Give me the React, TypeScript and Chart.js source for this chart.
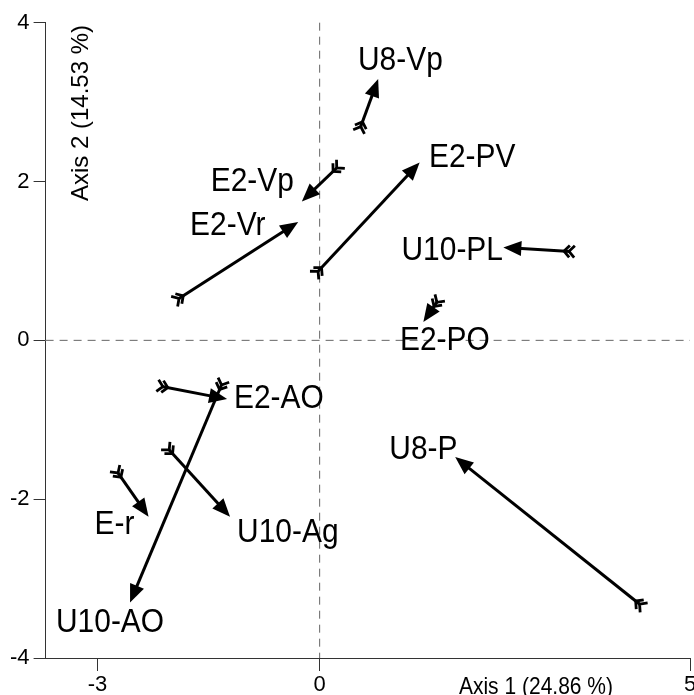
import { useEffect, useRef } from 'react';
import { Chart, registerables } from 'chart.js';

Chart.register(...registerables);

const labels = ['U8-Vp', 'E2-PV', 'E2-Vp', 'E2-Vr', 'U10-PL', 'E2-PO', 'U8-P', 'E2-AO', 'U10-AO', 'U10-Ag', 'E-r'];
const tailX = [0.55, -0.03, 0.24, -1.91, 3.38, 1.59, 4.33, -2.13, -1.32, -2.04, -2.73];
const tailY = [2.68, 0.86, 2.18, 0.52, 1.12, 0.49, -3.33, -0.58, -0.55, -1.37, -1.66];
const headX = [0.79, 1.35, -0.24, -0.29, 2.48, 1.40, 1.83, -1.25, -2.56, -1.21, -2.31];
const headY = [3.29, 2.24, 1.75, 1.49, 1.17, 0.23, -1.47, -0.74, -3.30, -2.22, -2.22];
const labelX = [1.09, 2.06, -0.91, -1.24, 1.79, 1.69, 1.40, -0.55, -2.83, -0.43, -2.77];
const labelY = [3.52, 2.30, 2.00, 1.44, 1.13, 0.0, -1.37, -0.74, -3.56, -2.42, -2.32];

const xTicks = [-3, 0, 5];
const yTicks = [-4, -2, 0, 2, 4];
const xTitle = 'Axis 1 (24.86 %)';
const yTitle = 'Axis 2 (14.53 %)';

const FONT = '"Liberation Sans", Arial, Helvetica, sans-serif';

export default function App() {
  const ref = useRef<HTMLCanvasElement>(null);

  useEffect(() => {
    document.body.style.margin = '0';
    const canvas = ref.current;
    if (!canvas) return;

    const overlay = {
      id: 'overlay',
      beforeDatasetsDraw(chart: any) {
        const { ctx, chartArea: a, scales } = chart;
        const x0 = scales.x.getPixelForValue(0);
        const y0 = scales.y.getPixelForValue(0);
        ctx.save();
        ctx.strokeStyle = '#666';
        ctx.lineWidth = 1;
        ctx.setLineDash([8, 6]);
        ctx.beginPath();
        ctx.moveTo(a.left, y0);
        ctx.lineTo(a.right, y0);
        ctx.moveTo(x0, a.top);
        ctx.lineTo(x0, a.bottom);
        ctx.stroke();
        ctx.restore();
      },
      afterDatasetsDraw(chart: any) {
        const { ctx, scales } = chart;
        const sx = scales.x;
        const sy = scales.y;
        ctx.save();
        ctx.fillStyle = '#000';
        ctx.strokeStyle = '#000';
        for (let i = 0; i < labels.length; i++) {
          const tx = sx.getPixelForValue(tailX[i]);
          const ty = sy.getPixelForValue(tailY[i]);
          const hx = sx.getPixelForValue(headX[i]);
          const hy = sy.getPixelForValue(headY[i]);
          const dx = hx - tx;
          const dy = hy - ty;
          const len = Math.hypot(dx, dy) || 1;
          const ux = dx / len;
          const uy = dy / len;
          const nx = -uy;
          const ny = ux;
          const L = 18;
          const W = 7.5;
          // shaft
          ctx.lineWidth = 3;
          ctx.lineCap = 'butt';
          ctx.beginPath();
          ctx.moveTo(tx, ty);
          ctx.lineTo(hx - ux * L * 0.8, hy - uy * L * 0.8);
          ctx.stroke();
          // head
          ctx.beginPath();
          ctx.moveTo(hx, hy);
          ctx.lineTo(hx - ux * L + nx * W, hy - uy * L + ny * W);
          ctx.lineTo(hx - ux * L - nx * W, hy - uy * L - ny * W);
          ctx.closePath();
          ctx.fill();
          // fletching (double chevron)
          ctx.lineWidth = 2.8;
          ctx.lineJoin = 'miter';
          for (let k = 0; k < 2; k++) {
            const vx = tx + ux * (1 + 5 * k);
            const vy = ty + uy * (1 + 5 * k);
            ctx.beginPath();
            ctx.moveTo(vx - ux * 5.5 + nx * 6, vy - uy * 5.5 + ny * 6);
            ctx.lineTo(vx, vy);
            ctx.lineTo(vx - ux * 5.5 - nx * 6, vy - uy * 5.5 - ny * 6);
            ctx.stroke();
          }
        }
        // labels
        ctx.font = `34px ${FONT}`;
        ctx.textAlign = 'center';
        ctx.textBaseline = 'middle';
        for (let i = 0; i < labels.length; i++) {
          const px = sx.getPixelForValue(labelX[i]);
          const py = sy.getPixelForValue(labelY[i]);
          ctx.save();
          ctx.translate(px, py);
          ctx.scale(0.88, 1);
          ctx.fillText(labels[i], 0, 0);
          ctx.restore();
        }
        // axis titles
        ctx.font = `24px ${FONT}`;
        ctx.textAlign = 'right';
        ctx.textBaseline = 'alphabetic';
        ctx.save();
        ctx.translate(613, 694);
        ctx.scale(0.875, 1);
        ctx.fillText(xTitle, 0, 0);
        ctx.restore();
        ctx.save();
        ctx.translate(88, 113);
        ctx.rotate(-Math.PI / 2);
        ctx.textAlign = 'center';
        ctx.fillText(yTitle, 0, 0);
        ctx.restore();
        ctx.restore();
      },
    };

    const chart = new Chart(canvas, {
      type: 'scatter',
      data: {
        datasets: [
          {
            data: headX.map((v, i) => ({ x: v, y: headY[i] })),
            pointRadius: 0,
            pointHoverRadius: 0,
          },
        ],
      },
      options: {
        animation: false,
        responsive: false,
        events: [],
        layout: { padding: { left: 0, top: 22.7, right: 4, bottom: 0 } },
        plugins: { legend: { display: false }, tooltip: { enabled: false } },
        scales: {
          x: {
            type: 'linear',
            min: -3.7,
            max: 5,
            afterBuildTicks: (s: any) => {
              s.ticks = xTicks.map((v) => ({ value: v }));
            },
            afterFit: (s: any) => {
              s.height = 37;
              s.paddingLeft = 0;
              s.paddingRight = 0;
            },
            grid: { drawOnChartArea: false, drawTicks: true, tickLength: 13, color: '#333', lineWidth: 1 },
            border: { display: true, color: '#333', width: 1 },
            ticks: {
              color: '#000',
              font: { family: FONT, size: 22 },
              padding: 1,
              maxRotation: 0,
              autoSkip: false,
              callback: (v: any) => String(v),
            },
          },
          y: {
            type: 'linear',
            min: -4,
            max: 4,
            afterBuildTicks: (s: any) => {
              s.ticks = yTicks.map((v) => ({ value: v }));
            },
            afterFit: (s: any) => {
              s.width = 45.6;
              s.paddingTop = 0;
              s.paddingBottom = 0;
            },
            grid: { drawOnChartArea: false, drawTicks: true, tickLength: 12, color: '#333', lineWidth: 1 },
            border: { display: true, color: '#333', width: 1 },
            ticks: {
              color: '#000',
              font: { family: FONT, size: 22 },
              padding: 4,
              autoSkip: false,
              callback: (v: any) => String(v),
            },
          },
        },
      },
      plugins: [overlay],
    });

    return () => chart.destroy();
  }, []);

  return (
    <div style={{ width: 694, height: 695 }}>
      <canvas ref={ref} width={694} height={695} style={{ display: 'block' }} />
    </div>
  );
}
